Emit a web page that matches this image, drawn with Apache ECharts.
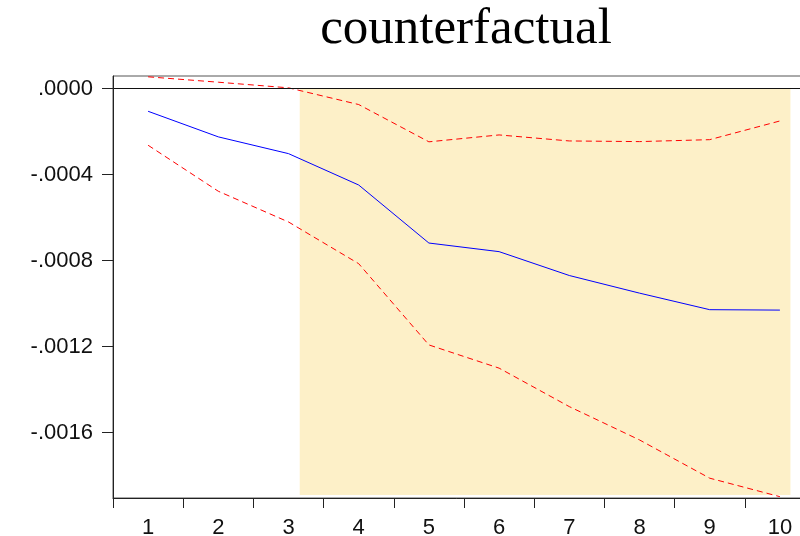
<!DOCTYPE html>
<html>
<head>
<meta charset="utf-8">
<script src="https://cdn.jsdelivr.net/npm/echarts@6/dist/echarts.min.js"></script>
<style>
  html, body { margin: 0; padding: 0; background: #ffffff; }
  #chart { width: 800px; height: 536px; }
</style>
</head>
<body>
<div id="chart"></div>
<script>
// Forecast horizon (periods)
const periods = [1, 2, 3, 4, 5, 6, 7, 8, 9, 10];

// Counterfactual response and its confidence band
const central = [-0.000105, -0.000224, -0.000302, -0.000448, -0.000718, -0.000758, -0.000869, -0.000951, -0.001028, -0.001030];
const upperBand = [0.0000554, 0.0000303, 0.0000042, -0.0000736, -0.000247, -0.000215, -0.000243, -0.000246, -0.000237, -0.000150];
const lowerBand = [-0.000263, -0.000477, -0.000620, -0.000814, -0.001192, -0.001300, -0.001479, -0.001634, -0.001812, -0.001898];

// Y axis ticks and their labels
const yTicks = [0, -0.0004, -0.0008, -0.0012, -0.0016];
const yTickLabels = ['.0000', '-.0004', '-.0008', '-.0012', '-.0016'];

// Axis extents
const yMin = -0.0019042;
const yMax = 0.0000592;

// Highlighted counterfactual window (period units, value units)
const shadeStart = 3.16;
const shadeEnd = 10.15;
const shadeTop = 0;
const shadeBottom = -0.00189;

const pairs = (vals) => vals.map((v, i) => [periods[i], v]);

const chart = echarts.init(document.getElementById('chart'), null, { renderer: 'canvas' });

const labelFont = { fontFamily: 'Liberation Sans, Arial, sans-serif', fontSize: 22, color: '#111' };

chart.setOption({
  animation: false,
  backgroundColor: '#ffffff',
  graphic: [{
    type: 'text',
    x: 466,
    y: 4,
    z: 10,
    style: {
      text: 'counterfactual',
      font: '51px "Liberation Serif", "Times New Roman", serif',
      fill: '#000',
      align: 'center',
      verticalAlign: 'top'
    }
  }],
  grid: {
    left: 113, top: 76, bottom: 38, width: 702,
    outerBoundsMode: 'none',
    containLabel: false,
    show: true, borderColor: '#555', borderWidth: 1, backgroundColor: 'transparent'
  },
  xAxis: [{
    type: 'category',
    data: periods.map(String),
    boundaryGap: true,
    z: 6,
    axisLine: { show: true, onZero: false, lineStyle: { color: '#222', width: 1 } },
    axisTick: { show: true, inside: false, length: 10, alignWithLabel: false, lineStyle: { color: '#222' } },
    axisLabel: Object.assign({ margin: 19 }, labelFont),
    splitLine: { show: false }
  }, {
    type: 'value',
    min: 0.5, max: 10.5,
    show: false,
    axisLine: { onZero: false },
    splitLine: { show: false }
  }],
  yAxis: {
    type: 'value',
    min: yMin, max: yMax,
    z: 6,
    axisLine: { show: true, onZero: false, lineStyle: { color: '#222', width: 1 } },
    axisTick: { show: true, length: 11, customValues: yTicks, lineStyle: { color: '#222' } },
    axisLabel: Object.assign({
      margin: 20,
      customValues: yTicks,
      formatter: (v) => {
        const i = yTicks.findIndex(t => Math.abs(t - v) < 1e-9);
        return i >= 0 ? yTickLabels[i] : '';
      }
    }, labelFont),
    splitLine: { show: false }
  },
  series: [{
    name: 'central',
    type: 'line',
    xAxisIndex: 1,
    data: pairs(central),
    symbol: 'none',
    z: 5,
    lineStyle: { color: '#0000ff', width: 1 },
    markArea: {
      silent: true,
      itemStyle: { color: '#fdf0c8' },
      data: [[{ xAxis: shadeStart, yAxis: shadeTop }, { xAxis: shadeEnd, yAxis: shadeBottom }]]
    },
    markLine: {
      silent: true,
      symbol: ['none', 'none'],
      label: { show: false },
      lineStyle: { color: '#111', width: 1, type: 'solid' },
      data: [{ yAxis: 0 }]
    }
  }, {
    name: 'upper',
    type: 'line',
    xAxisIndex: 1,
    data: pairs(upperBand),
    symbol: 'none',
    z: 4,
    lineStyle: { color: '#ff0000', width: 1, type: [6, 4] }
  }, {
    name: 'lower',
    type: 'line',
    xAxisIndex: 1,
    data: pairs(lowerBand),
    symbol: 'none',
    z: 4,
    lineStyle: { color: '#ff0000', width: 1, type: [6, 4] }
  }]
});
</script>
</body>
</html>
